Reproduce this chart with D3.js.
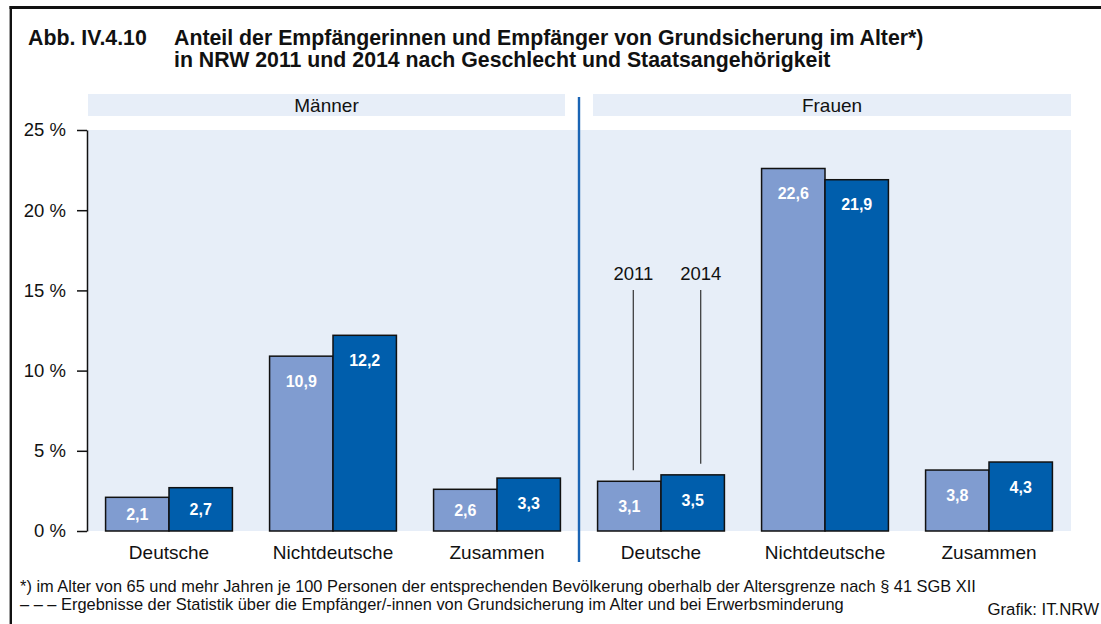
<!DOCTYPE html>
<html lang="de">
<head>
<meta charset="utf-8">
<script src="https://cdn.jsdelivr.net/npm/d3@7"></script>
<style>
  html, body { margin: 0; padding: 0; background: #fff; }
  svg { display: block; font-family: "Liberation Sans", Arial, Helvetica, sans-serif; }
</style>
</head>
<body>
<svg id="chart" width="1101" height="624"></svg>
<script>
// Anteil der Empfänger/-innen von Grundsicherung im Alter, NRW 2011 und 2014
const years = ["2011", "2014"];
const panels = ["Männer", "Frauen"];
const categories = ["Deutsche", "Nichtdeutsche", "Zusammen"];
const maenner2011 = [2.1, 10.9, 2.6];
const maenner2014 = [2.7, 12.2, 3.3];
const frauen2011 = [3.1, 22.6, 3.8];
const frauen2014 = [3.5, 21.9, 4.3];
const yTicks = [0, 5, 10, 15, 20, 25];

const seriesByPanel = {
  "Männer": { "2011": maenner2011, "2014": maenner2014 },
  "Frauen": { "2011": frauen2011, "2014": frauen2014 }
};
const rows = [];
panels.forEach(p => years.forEach(yr => categories.forEach((c, i) => {
  rows.push({ panel: p, year: yr, category: c, value: seriesByPanel[p][yr][i] });
})));

const colors = { "2011": "#809cd0", "2014": "#005eac" };
const bgColor = "#e7eef8";
const fmt = v => String(v.toFixed(1)).replace(".", ",");

const svg = d3.select("#chart");

// frame
svg.append("line").attr("x1", 9.5).attr("x2", 1101).attr("y1", 7.5).attr("y2", 7.5)
  .attr("stroke", "#111").attr("stroke-width", 3);
svg.append("line").attr("x1", 10.8).attr("x2", 10.8).attr("y1", 6).attr("y2", 624)
  .attr("stroke", "#111").attr("stroke-width", 2.4);

// title
const title = svg.append("g").attr("font-weight", "bold").attr("font-size", 21.3).attr("fill", "#111");
title.append("text").attr("x", 28).attr("y", 45).text("Abb. IV.4.10");
title.append("text").attr("x", 174).attr("y", 45)
  .text("Anteil der Empfängerinnen und Empfänger von Grundsicherung im Alter*)");
title.append("text").attr("x", 174).attr("y", 67)
  .text("in NRW 2011 und 2014 nach Geschlecht und Staatsangehörigkeit");

// scales
const plotLeft = 87, plotRight = 1071;
const y = d3.scaleLinear().domain([0, 25]).range([531, 130]);
const xPanel = d3.scaleBand().domain(panels).range([plotLeft, plotRight]);
const xCat = d3.scaleBand().domain(categories).range([0, xPanel.bandwidth()]);
const xYear = d3.scaleBand().domain(years).range([0, xCat.bandwidth()])
  .paddingInner(0).paddingOuter(0.293);
const barX = d => xPanel(d.panel) + xCat(d.category) + xYear(d.year);

// plot background
svg.append("rect").attr("x", plotLeft).attr("y", y(25))
  .attr("width", plotRight - plotLeft).attr("height", y(0) - y(25)).attr("fill", bgColor);

// panel header bands
const headerGap = 14;
panels.forEach((p, i) => {
  const x0 = xPanel(p) + (i === 0 ? 1 : headerGap);
  const x1 = xPanel(p) + xPanel.bandwidth() - (i === 0 ? headerGap : 0);
  svg.append("rect").attr("x", x0).attr("y", 94).attr("width", x1 - x0).attr("height", 22)
    .attr("fill", bgColor);
  svg.append("text").attr("x", (x0 + x1) / 2).attr("y", 105).attr("dy", "0.36em")
    .attr("text-anchor", "middle").attr("font-size", 19).attr("fill", "#111").text(p);
});

// bars
svg.append("g").selectAll("rect").data(rows).join("rect")
  .attr("x", barX)
  .attr("y", d => y(d.value))
  .attr("width", xYear.bandwidth())
  .attr("height", d => y(0) - y(d.value))
  .attr("fill", d => colors[d.year])
  .attr("stroke", "#111").attr("stroke-width", 1.5);

// value labels
svg.append("g").selectAll("text").data(rows).join("text")
  .attr("x", d => barX(d) + xYear.bandwidth() / 2)
  .attr("y", d => Math.min((y(d.value) + y(0)) / 2, y(d.value) + 25))
  .attr("dy", "0.36em")
  .attr("text-anchor", "middle").attr("font-size", 16).attr("font-weight", "bold")
  .attr("fill", "#fff").text(d => fmt(d.value));

// y axis
const yAxis = d3.axisLeft(y).tickValues(yTicks).tickSize(10).tickSizeOuter(0).tickPadding(11)
  .tickFormat(d => d + " %");
const gy = svg.append("g").attr("transform", `translate(${plotLeft},0)`).call(yAxis);
gy.select(".domain").attr("stroke", "#111").attr("stroke-width", 1.5);
gy.selectAll(".tick line").attr("stroke", "#111").attr("stroke-width", 1.5);
gy.selectAll(".tick text").attr("font-size", 18.5).attr("fill", "#111")
  .attr("font-family", "Liberation Sans, Arial, sans-serif");

// category labels
panels.forEach(p => {
  svg.append("g").selectAll("text").data(categories).join("text")
    .attr("x", c => xPanel(p) + xCat(c) + xCat.bandwidth() / 2)
    .attr("y", 559)
    .attr("text-anchor", "middle").attr("font-size", 19).attr("fill", "#111")
    .text(c => c);
});

// divider between panels
svg.append("line")
  .attr("x1", xPanel("Frauen")).attr("x2", xPanel("Frauen"))
  .attr("y1", 97).attr("y2", 562)
  .attr("stroke", "#1a64b4").attr("stroke-width", 2.4);

// year annotation on the first Frauen group
const annoOffsets = { "2011": 4, "2014": 8 };
years.forEach(yr => {
  const d = rows.find(r => r.panel === "Frauen" && r.category === "Deutsche" && r.year === yr);
  const cx = barX(d) + xYear.bandwidth() / 2 + annoOffsets[yr];
  svg.append("text").attr("x", cx).attr("y", 280).attr("text-anchor", "middle")
    .attr("font-size", 18.5).attr("fill", "#111").text(yr);
  svg.append("line").attr("x1", cx).attr("x2", cx).attr("y1", 290).attr("y2", y(d.value) - 11)
    .attr("stroke", "#333").attr("stroke-width", 1.2);
});

// footnotes
const notes = svg.append("g").attr("font-size", 16.4).attr("fill", "#111");
notes.append("text").attr("x", 20).attr("y", 592)
  .text("*) im Alter von 65 und mehr Jahren je 100 Personen der entsprechenden Bevölkerung oberhalb der Altersgrenze nach § 41 SGB XII");
notes.append("text").attr("x", 20).attr("y", 610)
  .text("– – – Ergebnisse der Statistik über die Empfänger/-innen von Grundsicherung im Alter und bei Erwerbsminderung");
svg.append("text").attr("x", 1099).attr("y", 615).attr("text-anchor", "end")
  .attr("font-size", 16.8).attr("fill", "#111").text("Grafik: IT.NRW");
</script>
</body>
</html>
